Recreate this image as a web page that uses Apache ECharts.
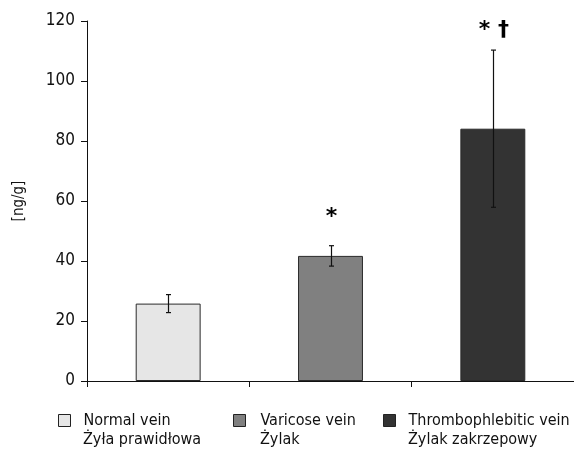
<!DOCTYPE html>
<html>
<head>
<meta charset="utf-8">
<script src="https://cdn.jsdelivr.net/npm/echarts@6/dist/echarts.min.js"></script>
<style>html,body{margin:0;padding:0;background:#fff;}#c{width:574px;height:451px;}</style>
</head>
<body>
<div id="c"></div>
<script>
const categories = ['Normal vein', 'Varicose vein', 'Thrombophlebitic vein'];
const polishNames = ['Żyła prawidłowa', 'Żylak', 'Żylak zakrzepowy'];
const means = [25.8, 41.7, 84.1];
const errors = [3.0, 3.4, 26.2];
const marks = ['', '*', '* †'];
const markValues = [0, 54.6, 116.8];
const colors = ['#e6e6e6', '#808080', '#333333'];

const FONT = '"DejaVu Sans Condensed", "Liberation Sans", sans-serif';
const chart = echarts.init(document.getElementById('c'), null, {renderer: 'canvas'});

const barSeries = categories.map((c, i) => ({
  name: c,
  type: 'bar',
  stack: 'all',
  barWidth: '40%',
  data: categories.map((_, j) => j === i ? means[i] : '-'),
  itemStyle: {color: colors[i], borderColor: '#2a2a2a', borderWidth: 1},
  emphasis: {disabled: true},
  z: 2
}));

const errorSeries = {
  name: 'err',
  type: 'custom',
  z: 5,
  data: means.map((m, i) => [i, m - errors[i], m + errors[i]]),
  renderItem: function (params, api) {
    const lo = api.coord([api.value(0), api.value(1)]);
    const hi = api.coord([api.value(0), api.value(2)]);
    const x = Math.round(lo[0]) + 0.5;
    const cap = 2.5;
    const st = {stroke: '#111', lineWidth: 1.2};
    return {
      type: 'group',
      children: [
        {type: 'line', shape: {x1: x, y1: hi[1], x2: x, y2: lo[1]}, style: st},
        {type: 'line', shape: {x1: x - cap, y1: hi[1], x2: x + cap, y2: hi[1]}, style: st},
        {type: 'line', shape: {x1: x - cap, y1: lo[1], x2: x + cap, y2: lo[1]}, style: st}
      ]
    };
  }
};

const markSeries = {
  name: 'marks',
  type: 'custom',
  z: 6,
  data: marks.map((m, i) => [i, markValues[i]]),
  renderItem: function (params, api) {
    const i = params.dataIndex;
    const p = api.coord([api.value(0), api.value(1)]);
    return {
      type: 'text',
      style: {
        text: marks[i],
        x: p[0] + 1, y: p[1],
        align: 'center', verticalAlign: 'middle',
        font: 'bold 22px "DejaVu Sans", sans-serif',
        fill: '#000'
      }
    };
  }
};

const legendLeft = [53, 228, 378];
const legendPad = [8, 10, 8];
const textLeft = [83, 260, 408];
const legends = categories.map((c, i) => ({
  data: [c],
  left: legendLeft[i],
  top: 406,
  orient: 'vertical',
  icon: 'rect',
  itemWidth: 12,
  itemHeight: 12,
  selectedMode: false,
  itemStyle: {borderColor: '#222', borderWidth: 1},
  textStyle: {fontFamily: FONT, fontSize: 16, color: '#111', lineHeight: 19, padding: [0, 0, 0, legendPad[i]]}
}));

const secondLines = polishNames.map((t, i) => ({
  type: 'text',
  x: textLeft[i],
  y: 440,
  style: {text: t, font: '16px ' + FONT, fill: '#111', verticalAlign: 'middle', align: 'left'}
}));

chart.setOption({
  animation: false,
  backgroundColor: '#fff',
  legend: legends,
  graphic: secondLines,
  grid: {left: 87, right: 0, top: 21, bottom: 70, containLabel: false},
  xAxis: {
    type: 'category',
    data: categories,
    axisLine: {lineStyle: {color: '#111', width: 1}},
    axisTick: {show: true, length: 6, alignWithLabel: false, lineStyle: {color: '#111'}},
    axisLabel: {show: false},
    splitLine: {show: false}
  },
  yAxis: {
    type: 'value',
    min: 0, max: 120, interval: 20,
    name: '[ng/g]',
    nameLocation: 'middle',
    nameGap: 60,
    nameRotate: 90,
    nameTextStyle: {fontFamily: FONT, fontSize: 15, color: '#111'},
    axisLine: {show: true, lineStyle: {color: '#111', width: 1}},
    axisTick: {show: true, length: 6, lineStyle: {color: '#111'}},
    axisLabel: {fontFamily: FONT, fontSize: 17, color: '#111', margin: 12},
    splitLine: {show: false}
  },
  series: [...barSeries, errorSeries, markSeries]
});
</script>
</body>
</html>
